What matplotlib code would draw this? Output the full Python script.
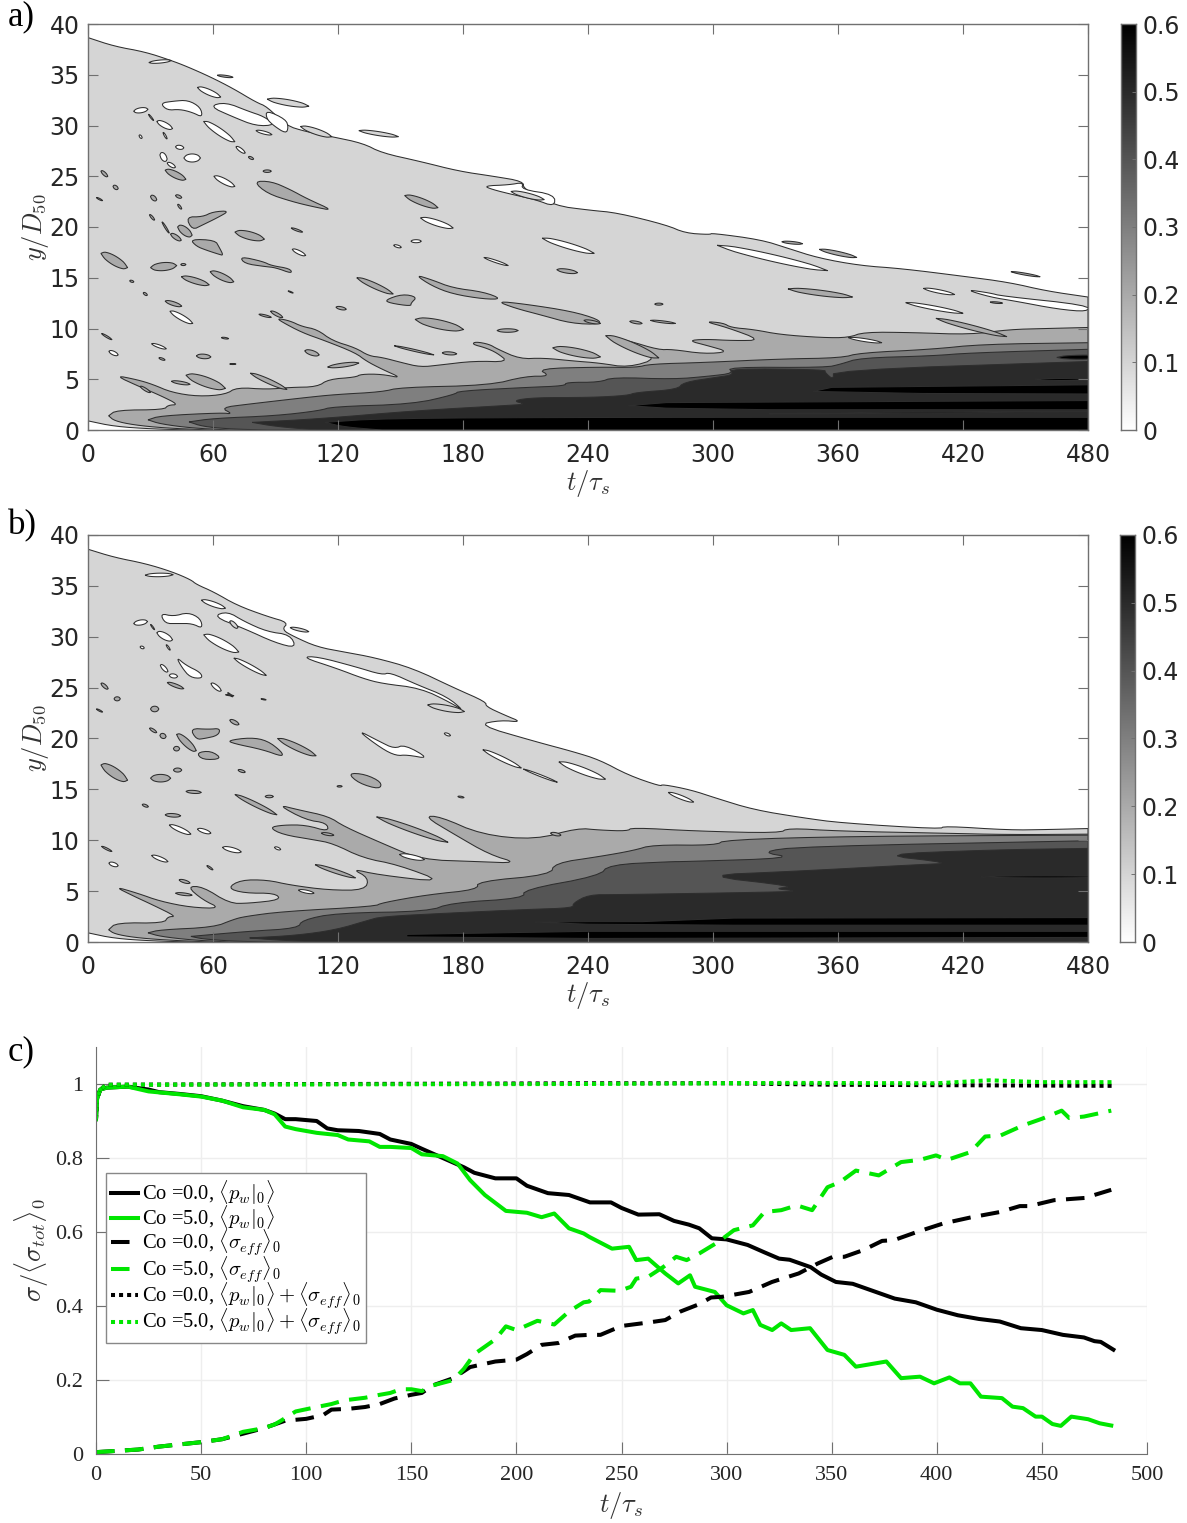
"""
Settling contour maps (a, b) and stress curves (c).
"""
import matplotlib
matplotlib.use('Agg')
import matplotlib.pyplot as plt
from matplotlib.lines import Line2D
import numpy as np

W, H = 1187, 1523

plt.rcParams['mathtext.fontset'] = 'cm'
plt.rcParams['font.family'] = ['DejaVu Sans']

levels = [0.1, 0.2, 0.3, 0.4, 0.5, 0.6]
t_ticks_map = [0, 60, 120, 180, 240, 300, 360, 420, 480]
y_ticks_map = [0, 5, 10, 15, 20, 25, 30, 35, 40]
cbar_ticks = [0, 0.1, 0.2, 0.3, 0.4, 0.5, 0.6]
cbar_labels = ['0', '0.1', '0.2', '0.3', '0.4', '0.5', '0.6']

# ---- panel a, upper edge of each band, lower edge near the origin
a_top_1 = [(0, 38.66), (12.7, 37.8), (27.4, 37.25), (40, 36.4), (47.6, 35.8), (58.6, 34.8), (69.6, 33.65), (80.6, 32.3),
           (86, 31.85), (95, 30), (104.5, 29.4), (117, 28.9), (132, 28.25), (141, 27.3), (159.6, 26.45), (178, 25.5),
           (194.5, 25), (209, 24.5), (209, 23.75), (224, 22.1), (241, 21.65), (254, 21.4), (277.6, 20.2), (286.7, 19.4),
           (298.5, 19.25), (299.5, 19.4), (323, 18.75), (336, 17.9), (350.5, 16.95), (370.6, 16.2), (390.7, 15.9),
           (420, 15.15), (442, 14.55), (460, 13.7), (480, 13.1)]
a_low_1 = [(0, 0.9), (12.7, 0.35), (31, 0.1), (50, 0)]
a_top_2 = [(9.9, 1.4), (13.6, 1.96), (36.5, 2.0), (38.4, 2.45), (43.5, 2.5), (34.7, 3.4), (25.5, 4.2), (12.7, 5.4),
           (23.7, 4.95), (31, 4.5), (40.2, 3.7), (53, 3.3), (66, 3.5), (71.4, 4.2), (86, 4.0), (97, 4.2), (110, 4.25),
           (115.5, 5), (128.4, 5.2), (131, 5.5), (141, 5.5), (150.8, 5.1), (141, 6), (133.5, 6.8), (128.4, 7.6),
           (113.7, 8.8), (102.7, 9.6), (92.6, 10.7), (91, 11), (97, 10.75), (102.7, 10.2), (110, 9.9), (117.3, 8.8),
           (128.4, 8.1), (134.8, 7.3), (141.2, 7.15), (150.4, 6.65), (159.6, 6.2), (168.8, 6.4), (185.3, 6.8),
           (201.8, 6.7), (196.3, 7.6), (190.8, 8.1), (184.4, 8.45), (186, 8.7), (192.6, 8.45), (196.3, 8), (207.3, 7),
           (218.4, 7.1), (233, 6.8), (245.5, 6.6), (259.3, 6.15), (273.9, 7.07), (259.3, 8.3), (248.4, 9.3), (259.3, 8.8),
           (273.9, 7.9), (280.3, 7.95), (295.8, 7.5), (307.7, 7.7), (297.6, 8.3), (288.1, 8.8), (295.8, 8.95),
           (310.4, 8.8), (323.2, 8.85), (306.8, 10.1), (295.8, 10.7), (304.9, 10.55), (308.6, 10.1), (319.5, 9.9),
           (332.3, 9.4), (352.4, 9.1), (365.1, 9.1), (372.4, 9.65), (396.2, 9.6), (423.5, 9.4), (442, 9.9), (460, 10),
           (480, 10.1)]
a_low_2 = [(9.9, 1.4), (12.7, 0.9), (21.9, 0.5), (36.5, 0.2), (58.6, 0)]
a_top_3 = [(28.8, 1.0), (34.7, 1.4), (64, 1.7), (69.5, 1.57), (63.7, 2.2), (77, 2.55), (104.5, 3.2), (119, 3.5), (141, 3.75),
           (150, 4.2), (192.6, 4.4), (210, 5.3), (222, 5.3), (215.6, 6.05), (245.5, 6.2), (263, 6.15), (270, 6.5),
           (295.8, 6.65), (332.3, 7), (361.5, 7.1), (370.6, 7.6), (405, 7.95), (429, 8.45), (480, 8.6)]
a_low_3 = [(28.8, 1.0), (34.7, 0.6), (49.4, 0.2), (67.8, 0)]
a_top_4 = [(48.5, 0.8), (60.4, 1.15), (89.8, 1.4), (111, 1.9), (117.4, 2.3), (156, 2.55), (176, 3.5), (178, 3.85), (211, 4.2),
           (229, 4.35), (229.4, 4.7), (245.5, 4.7), (252, 5.2), (281, 5), (298, 5.3), (310, 5.6), (306.8, 6.2), (354, 6.15),
           (361.5, 6.5), (370.6, 7.1), (405, 7.3), (423.5, 7.6), (480, 7.95)]
a_low_4 = [(48.5, 0.8), (55, 0.35), (67.8, 0.1), (86, 0)]
a_top_5 = [(78.8, 0.75), (111, 1.1), (157, 1.9), (204, 2.45), (210, 2.55), (203.7, 2.9), (214.7, 3.2), (241, 3.2), (259, 3.4),
           (263, 3.7), (283, 4), (285.8, 4.7), (302, 5.2), (310, 5.45), (307.7, 6.05), (353.8, 5.95), (353.8, 5.65),
           (357.8, 4.95), (357.8, 5.9), (480, 6.75)]
a_low_5 = [(78.8, 0.75), (90, 0.35), (110, 0)]
a_top_6 = [(113.7, 0.75), (141, 1.15), (245.5, 1.25), (480, 1.25)]
a_low_6 = [(113.7, 0.75), (123, 0.3), (141, 0)]
a_black = [[(259.3, 2.4), (277.6, 2.7), (480, 2.9), (480, 2.0), (327, 2.0), (277.6, 2.15)],
           [(348, 3.8), (357, 4.2), (480, 4.45), (480, 3.55), (400, 3.6)]]
a_black_lens = [(327, 1.6, 480, 1.85, 0.12), (454.6, 5.0, 480, 4.95, 0.2), (465, 7.15, 490, 7.2, 0.4)]

a_white = [[(34.7, 32.2), (41, 32.4), (48, 32.5), (54, 31.8), (55, 30.8), (50, 31.3), (44, 31.6), (38, 31.5)],
           [(58.2, 31.9), (66, 32.3), (77, 31.4), (84.3, 30.9), (90, 30.05), (80.6, 29.95), (69.6, 30.85)],
           [(85.6, 31.5), (95, 30.6), (96.2, 29.8), (95, 29.2), (89, 30), (85.6, 30.7)],
           [(190, 24.05), (202, 24.15), (209, 24.4), (208, 23.7), (224, 23.2), (224, 22), (214.7, 22.7), (203.7, 23.2),
            (194, 23.7)],
           [(421, 13.85), (433, 13.5), (438.5, 13.2), (480, 12.3), (480, 11.65), (465.6, 11.9), (445, 12.7), (433, 13.1)]]
a_white_lens = [(29.2, 36.2, 40, 36.4, 0.3), (52.5, 33.75, 63.7, 32.8, 0.6), (21.9, 31.4, 28.8, 31.6, 0.5),
                (33, 30.4, 40.6, 29.7, 0.6), (55.5, 30.4, 70.5, 28.4, 0.8), (80.6, 29.5, 88.3, 29.1, 0.3),
                (24.5, 29, 26, 28.8, 0.3), (36, 29.3, 38, 28.7, 0.3), (29, 31.1, 31.5, 30.5, 0.2), (42, 27.9, 46, 27.8, 0.4),
                (34.5, 27.1, 38, 26.7, 0.8), (38, 26.3, 42, 25.9, 0.4), (46, 26.8, 54, 26.8, 0.8), (71, 27.9, 75.5, 27.3, 0.4),
                (60.4, 25, 70.5, 24, 0.6), (159.6, 20.9, 175.3, 19.9, 0.6), (155, 18.6, 160, 18.6, 0.3),
                (146.7, 18.2, 150.4, 18, 0.25), (218, 18.9, 243, 17.4, 0.6), (98, 17.8, 104.5, 17.2, 0.4),
                (190, 17, 201.7, 16.2, 0.25), (39.3, 11.7, 50.3, 10.5, 0.6), (30.5, 8.5, 37.6, 8, 0.3),
                (10, 7.75, 14.5, 7.4, 0.4), (302, 18.2, 355, 15.7, 0.7), (401, 13.95, 416, 13.35, 0.35),
                (392.5, 12.55, 420, 11.5, 0.4), (365, 9.1, 381, 8.6, 0.3)]
a_light_lens = [(86, 32.6, 106, 31.9, 0.6), (102, 29.9, 117, 28.9, 0.6), (130, 29.5, 149, 28.9, 0.4), (203, 23.5, 219, 22.7, 0.5)]
a_gray = [[(79.4, 24.5), (88, 24.5), (97, 23.7), (105, 22.8), (118, 21.6), (108, 22), (98, 22.5), (86, 23.3)],
          [(47, 21), (55, 21), (60, 21.5), (68, 21.6), (62, 20.9), (55, 20.2), (50, 19.7)],
          [(49, 18.8), (61, 18.7), (63, 18), (65, 17.2), (63, 17.3), (57, 17.7), (52, 18.1)],
          [(73, 17.1), (84, 16.6), (88, 16.2), (97, 15.9), (98, 15.4), (90, 16), (85, 16.1), (75, 16.4)],
          [(142.5, 12.8), (151, 13.4), (158, 13.1), (155, 12.5), (155, 12.2), (145, 12.5)],
          [(157, 15.3), (165, 14.8), (175, 14), (190, 13.6), (198.7, 12.9), (190, 12.9), (175, 13.4), (165, 14.2)],
          [(196, 12.7), (210, 12.4), (232, 11.7), (245, 10.9), (246, 10.4), (232, 10.5), (218, 11.3), (205, 12)]]
a_gray_lens = [(62, 34.95, 69.6, 34.75, 0.2), (6.2, 25.5, 9.5, 25, 0.4), (12, 24, 14.5, 23.8, 0.4), (4, 22.9, 7, 22.6, 0.15),
               (30, 23, 33, 22.7, 0.5), (42, 23.1, 45, 22.9, 0.3), (43, 22.2, 45, 21.8, 0.3), (29.5, 21.2, 32, 20.7, 0.3),
               (37, 25.6, 47, 24.7, 0.7), (84, 25.5, 88, 25.5, 0.25), (77, 26.9, 79.5, 26.7, 0.25),
               (152, 23.1, 168, 21.9, 0.7), (43, 20, 50, 19.2, 0.9), (35.5, 20.5, 39, 19.4, 0.3), (39.6, 19.3, 44.8, 18.7, 0.5),
               (70.5, 19.5, 84.7, 18.8, 0.8), (97.5, 19.9, 103, 19.5, 0.2), (6.2, 17.4, 19, 16, 1.0), (30, 16, 42.6, 16.2, 0.8),
               (44.5, 16.3, 47, 16.3, 0.2), (20, 14.7, 22, 14.6, 0.2), (44.8, 15.1, 58.2, 14.3, 0.6), (58.6, 15.6, 70, 14.6, 0.7),
               (26.5, 13.5, 28.5, 13.3, 0.25), (96, 13.7, 98.5, 13.5, 0.1), (37, 12.7, 45, 12.2, 0.4),
               (129, 15, 146.5, 13.4, 0.6), (157, 10.9, 180.3, 9.9, 0.9), (119, 12.1, 124, 11.9, 0.3),
               (196.3, 9.8, 206.5, 9.8, 0.35), (82, 11.4, 88, 11.1, 0.2), (87.6, 11.7, 93.5, 11.1, 0.35),
               (6.5, 9.5, 11.5, 8.9, 0.2), (64, 9.1, 67.5, 9, 0.15), (34, 7.1, 37, 6.9, 0.2), (52, 7.3, 59, 7.2, 0.45),
               (104, 7.8, 111, 7.4, 0.5), (68, 6.5, 71, 6.5, 0.1), (115, 6.2, 130, 6.6, 0.4), (147, 8.3, 166, 7.4, 0.2),
               (170, 7.6, 177, 7.5, 0.3), (40, 4.8, 49, 4.5, 0.3), (47, 5.4, 66, 4.1, 1.0), (77.9, 5.6, 95.5, 4.0, 0.5),
               (25, 4.3, 30, 3.7, 0.3), (223, 8.1, 246, 7.2, 0.8), (248.4, 9.3, 274, 7.1, 0.9), (407, 11, 441, 9.2, 0.5),
               (333, 18.55, 343, 18.35, 0.25), (351, 17.8, 369, 17, 0.4), (336, 13.9, 367, 13.1, 0.55),
               (443, 15.6, 457, 15.1, 0.2), (225, 15.8, 235, 15.5, 0.4), (272, 12.4, 276, 12.4, 0.2), (260, 10.7, 266, 10.5, 0.25),
               (270, 10.8, 282, 10.5, 0.2), (238, 10.8, 246, 10.5, 0.3), (433, 12.6, 439, 12.5, 0.15)]

# ---- panel b
b_top_1 = [(0, 38.6), (12.7, 37.8), (27.4, 37.2), (40.2, 36.4), (49.4, 35.6), (52, 35.15), (60.4, 34.4), (71.4, 33.1), (86, 32),
           (96.2, 31.4), (93, 30.7), (99, 30), (110, 29), (123, 28.5), (137.6, 27.95), (156, 26.9), (176, 24.95), (191, 23.6),
           (191, 23.15), (200, 22.3), (208.3, 21.6), (198, 21.8), (187, 21.35), (214.7, 19.7), (233, 18.7), (245.5, 17.9),
           (259.3, 16.4), (274.8, 15.3), (275.7, 15.5), (289.4, 14.95), (301.3, 14.15), (319.5, 13), (343.3, 12.2),
           (361.5, 11.7), (409, 11.1), (411, 11.4), (442, 11), (460, 11.05), (480, 11.15)]
b_low_1 = [(0, 0.9), (12.7, 0.35), (31, 0.1), (50, 0)]
b_top_2 = [(9.9, 1.2), (13.6, 1.9), (36.5, 1.85), (38.4, 2.5), (42.4, 2.5), (31, 3.65), (22, 4.5), (12.7, 5.45), (23.7, 4.8),
           (34.7, 4), (49.4, 3.4), (63.7, 3.3), (55, 4.15), (47.6, 5.45), (55, 5.45), (67.8, 3.8), (77, 3.8), (92.6, 4.15),
           (89.8, 4.8), (75, 4.8), (66.9, 5.3), (73.3, 6.1), (86, 6.1), (97, 5.6), (115.5, 5.1), (133, 5.1), (134.8, 6.3),
           (126.5, 7.2), (139.4, 6.6), (171.5, 5.85), (148.6, 7.6), (132, 8.25), (117.4, 9.7), (108.2, 10.05), (93.5, 10.55),
           (87, 11.25), (93.5, 11.5), (104.5, 11.5), (115.5, 10.85), (114.6, 11.7), (104.5, 12), (91, 13.5), (100.8, 13),
           (115.5, 12.35), (122.9, 11.35), (141.2, 9.7), (159.6, 8.1), (187.1, 7.9), (206.4, 7.75), (192.6, 8.6),
           (176.1, 10.55), (161.4, 12.35), (168.8, 12.35), (188.9, 10.55), (214.7, 10.05), (234.9, 11.2), (245.5, 11),
           (259, 10.9), (261, 11.25), (292, 10.9), (332, 10.7), (336, 11.2), (360, 10.9), (409, 10.7), (442, 10.55),
           (480, 10.6)]
b_low_2 = [(9.9, 1.2), (12.7, 0.8), (21.9, 0.45), (36.5, 0.2), (58.6, 0)]
b_top_3 = [(28.8, 0.9), (34.7, 1.2), (60.4, 1.45), (69.6, 2.2), (75, 2.5), (93.5, 3), (137.6, 3.5), (141, 3.85), (163, 4.65),
           (187, 5.15), (187, 5.95), (222, 6.6), (223.9, 7.75), (245.5, 8.4), (262, 9), (271, 9.55), (301.3, 9.5),
           (305.8, 10.05), (368.8, 10.4), (480, 10.5)]
b_low_3 = [(28.8, 0.9), (34.7, 0.55), (49.4, 0.2), (67.8, 0)]
b_top_4 = [(49.4, 0.55), (77, 1.05), (100.8, 1.35), (102.7, 2.15), (119.2, 2.85), (163.3, 3), (174.3, 3.85), (209.2, 4.3),
           (209.2, 5.15), (245.5, 6.5), (250, 7.6), (280, 7.9), (285.8, 7.9), (339.6, 8.25), (322.3, 8.85), (343.2, 9.4),
           (480, 9.95)]
b_low_4 = [(49.4, 0.55), (55, 0.3), (67.8, 0.1), (86, 0)]
b_top_5 = [(77.6, 0.4), (100, 0.65), (119, 1.2), (133.9, 2.1), (141, 2.5), (174, 2.85), (211, 3.2), (233, 3.35), (232.7, 3.8),
           (240.4, 4.65), (253.8, 4.65), (328.6, 4.9), (341.4, 5), (328.6, 5.25), (340.5, 5.45), (293, 6.55), (339.6, 6.95),
           (398, 7.6), (415.3, 7.75), (378, 8.6), (432.7, 9.05), (480, 9.2)]
b_low_5 = [(77.6, 0.4), (90, 0.2), (110, 0)]
b_black = [[(153, 0.75), (241, 1.05), (480, 1.05), (480, 0.45), (241, 0.35), (153, 0.5)],
           [(214.6, 1.95), (240, 2.0), (266, 2.0), (310, 2.35), (480, 2.4), (480, 1.65), (310, 1.65), (240, 1.75)]]
b_black_lens = [(428.6, 6.4, 490, 6.4, 0.2)]

b_white = [[(34.7, 32.3), (41, 32), (48, 32.4), (54, 31.8), (55, 30.8), (50, 31.3), (43, 31.3), (37, 31.3)],
           [(60, 32), (66.9, 32.5), (75, 31.5), (86, 30.5), (97, 30.2), (100, 28.9), (90, 29.4), (75, 30.8)],
           [(102.7, 28), (110, 28.05), (128.4, 27.05), (141.2, 26.25), (144.9, 26.5), (157.8, 25.3), (172.5, 24.1),
            (180.7, 22.65), (174.3, 23.5), (159.6, 24.95), (141.2, 25.4), (132, 25.9), (119.2, 26.9)],
           [(42.4, 28), (47, 27.2), (54, 26.5), (55, 25.9), (49, 26), (45, 27)],
           [(128.7, 20.9), (140, 19.7), (147, 19), (152, 19.4), (164, 18), (153, 18.4), (148, 18.3), (141, 19)]]
b_white_lens = [(27.4, 36.05, 40.9, 36.1, 0.35), (54.4, 33.6, 66, 32.8, 0.5), (21.9, 31.3, 28.6, 31.5, 0.5),
                (33, 30.4, 40.6, 29.7, 0.7), (55.5, 30.2, 72.4, 28.5, 0.9), (34.7, 27.2, 38.4, 26.6, 0.5), (39, 26.2, 43, 26.1, 0.4),
                (59, 25.4, 64, 24.7, 0.5), (70, 27.9, 85.6, 26.2, 0.5), (189.5, 18.9, 208, 17.1, 0.5),
                (209, 17, 225.3, 15.7, 0.2), (226, 17.7, 248.4, 16, 0.7), (278.5, 14.7, 290.7, 13.75, 0.4),
                (39, 11.5, 49.4, 10.6, 0.5), (52.5, 11.1, 59, 10.7, 0.4), (64.5, 9.3, 73.6, 8.85, 0.45), (89.5, 9.3, 92.5, 9.1, 0.25),
                (30.5, 8.5, 38.4, 7.9, 0.4), (10, 7.75, 14.5, 7.5, 0.4), (101, 5.1, 108.5, 4.8, 0.3), (149.5, 8.6, 161.5, 8.1, 0.45),
                (25, 29, 27, 28.9, 0.25), (37.5, 29.2, 39.5, 28.7, 0.25), (30, 31.2, 32, 30.7, 0.2), (67, 24.5, 69.5, 24.1, 0.15),
                (171, 20.5, 174, 20.3, 0.25)]
b_light_lens = [(68, 31.5, 72, 30.9, 0.5), (163, 23.3, 180.7, 22.65, 0.6), (97, 30.9, 106, 30.5, 0.3)]
b_gray = [[(49, 21), (58, 20.9), (63.5, 21), (62.5, 20.3), (56, 20), (52, 19.9)],
          [(52, 18.6), (59, 18.8), (64.5, 18), (55, 17.9)],
          [(67, 19.8), (78, 20.1), (86, 19.8), (93, 18.7), (93.5, 18.2), (84, 18.9), (70, 19.5)],
          [(124.7, 16.6), (133, 16.5), (141, 15.7), (140, 15), (130, 15.6)]]
b_gray_lens = [(6.2, 25.4, 9.7, 24.9, 0.4), (12.5, 23.9, 15.5, 23.9, 0.4), (4, 22.9, 7, 22.6, 0.15), (30, 22.9, 34, 22.9, 0.55),
               (29.5, 21, 33, 20.6, 0.3), (34.5, 20.3, 37.5, 20.2, 0.5), (41, 19, 44, 19, 0.45), (42.5, 20.4, 52, 18.8, 0.9),
               (91, 20, 109.5, 18.3, 0.7), (68, 21.8, 72.5, 21.4, 0.4), (6.2, 17.4, 19, 15.9, 1.1), (30, 16.1, 39.7, 16.1, 0.75),
               (41, 16.9, 45, 16.9, 0.4), (47, 14.8, 54.4, 14.7, 0.3), (26, 13.5, 29, 13.3, 0.25), (37, 12.5, 44.5, 12.4, 0.35),
               (70.5, 14.5, 90.7, 12.5, 0.5), (85, 14.3, 89, 14.3, 0.25), (119.5, 15.3, 122, 15.3, 0.15),
               (177.5, 14.3, 180.5, 14.2, 0.15), (72, 16.9, 75.5, 16.7, 0.25), (138.5, 12.3, 172.8, 9.8, 0.6),
               (109, 7.6, 128.4, 6.3, 0.4), (43.7, 6.1, 49, 5.8, 0.3), (42, 4.8, 50, 4.6, 0.25), (222, 10.7, 227, 10.5, 0.3),
               (6.5, 9.4, 11.5, 8.9, 0.2), (38, 25.5, 46, 24.9, 0.35), (57, 7.5, 60, 7.1, 0.2), (66, 24.3, 70, 24.2, 0.1),
               (83, 23.9, 85.5, 23.8, 0.1), (112, 10.7, 118, 10.5, 0.25)]

# ---- panel c
t_black_p = [0, 0.5, 2, 5, 15, 25, 30, 40, 50, 60, 70, 80, 85, 90, 95, 105, 110, 115, 125, 135, 140, 150, 155, 165, 175, 180, 190,
             200, 205, 215, 225, 235, 245, 250, 258, 268, 275, 282, 287, 293, 300, 310, 318, 325, 330, 340, 345, 352, 360, 370,
             380, 390, 400, 410, 420, 430, 440, 450, 460, 470, 475, 478, 484]
black_p = [.905, .96, .985, .99, .993, .985, .978, .973, .967, .955, .94, .93, .92, .905, .905, .90, .88, .875, .873, .865, .85,
           .838, .825, .80, .775, .76, .745, .745, .725, .705, .70, .68, .68, .665, .647, .648, .63, .62, .61, .583, .58, .565,
           .545, .528, .525, .505, .485, .465, .46, .44, .42, .41, .39, .375, .365, .358, .34, .335, .322, .315, .305, .303, .282]
t_green_p = [0, 0.5, 2, 5, 15, 25, 40, 50, 60, 70, 80, 85, 90, 95, 105, 115, 120, 130, 135, 140, 150, 155, 165, 172, 178, 185, 195,
             205, 212, 218, 225, 232, 234.6, 245.5, 253.6, 257, 262.7, 270.8, 277, 282.6, 285, 294.4, 300, 308, 312.5, 316, 321.7,
             326, 330.7, 339.7, 348, 356, 361.5, 376, 383, 392, 398.7, 406, 411, 416, 421, 431, 436, 441, 447, 450, 455, 459, 464,
             472, 477.5, 483]
green_p = [.905, .96, .985, .99, .993, .98, .972, .966, .955, .937, .93, .918, .885, .878, .868, .862, .85, .845, .83, .83, .827,
           .81, .805, .785, .74, .70, .657, .652, .64, .65, .61, .596, .587, .555, .56, .524, .528, .488, .461, .483, .452, .438,
           .402, .38, .389, .349, .335, .353, .335, .34, .281, .268, .236, .25, .205, .209, .191, .207, .191, .191, .155, .151,
           .128, .124, .101, .101, .081, .076, .101, .094, .083, .077]
t_black_s = [0, 20, 30, 50, 60, 70, 80, 85, 90, 100, 108, 112, 120, 128, 135, 142, 150, 155, 160, 170, 178, 190, 200, 205, 212, 220,
             228, 234.6, 240, 250, 263.6, 270.8, 278, 287, 292.6, 298, 310.7, 321.6, 334.3, 343.4, 350.6, 356, 365, 374, 379.6,
             390.5, 403, 415.8, 430, 439.5, 444, 455.8, 470.3, 483]
black_s = [.005, .012, .02, .032, .04, .055, .07, .08, .09, .095, .105, .12, .122, .127, .135, .15, .16, .165, .185, .205, .235, .25,
           .255, .27, .295, .3, .32, .322, .322, .346, .356, .362, .385, .405, .423, .425, .438, .465, .488, .515, .533, .533, .551,
           .576, .578, .6, .623, .639, .654, .67, .67, .686, .692, .714]
t_green_s = [0, 20, 30, 50, 60, 70, 80, 85, 88, 95, 105, 112, 118, 128, 135, 140, 145, 150, 155, 160, 170, 175, 180, 190, 195, 200, 210,
             218, 225, 232, 234.6, 240, 249, 254.5, 257, 262.7, 270, 276, 281, 287, 296, 303.5, 312.5, 318, 326, 333.4, 340.7, 348, 354,
             361.5, 372.4, 383, 392, 399.6, 405, 416, 423, 430.4, 441, 450, 459.4, 463, 470, 483]
green_s = [.005, .012, .02, .032, .04, .06, .07, .08, .09, .115, .127, .135, .145, .152, .16, .165, .175, .175, .17, .185, .2, .23, .27,
           .31, .345, .335, .36, .35, .385, .41, .412, .443, .441, .452, .474, .479, .506, .533, .524, .542, .573, .605, .618, .654, .659,
           .672, .659, .721, .735, .766, .753, .789, .795, .807, .795, .816, .858, .861, .888, .906, .928, .908, .912, .928]
t_black_sum = [0, 0.5, 2, 5, 230, 300, 350, 484]
black_sum = [.905, .96, .985, .998, 1.002, 1.002, .998, .995]
t_green_sum = [0, 0.5, 2, 5, 230, 330, 400, 425, 450, 484]
green_sum = [.905, .96, .985, .998, 1.0, 1.003, 1.002, 1.01, 1.005, 1.005]
t_ticks_c = [0, 50, 100, 150, 200, 250, 300, 350, 400, 450, 500]
y_ticks_c = [0, 0.2, 0.4, 0.6, 0.8, 1]
y_labels_c = ['0', '0.2', '0.4', '0.6', '0.8', '1']
legend_names = [r'Co =0.0, $\langle p_w|_0\rangle$', r'Co =5.0, $\langle p_w|_0\rangle$',
                r'Co =0.0, $\langle\sigma_{eff}\rangle_0$', r'Co =5.0, $\langle\sigma_{eff}\rangle_0$',
                r'Co =0.0, $\langle p_w|_0\rangle+\langle\sigma_{eff}\rangle_0$',
                r'Co =5.0, $\langle p_w|_0\rangle+\langle\sigma_{eff}\rangle_0$']

cmap = plt.get_cmap('gray_r')
EDGE = '#2e2e2e'
AX_COL = '#707070'


def axes_px(left, top, right, bottom):
    return fig.add_axes([left / W, 1 - bottom / H, (right - left) / W, (bottom - top) / H])


def lens(t1, y1, t2, y2, th):
    # thin blob between two end points, th is full height
    s = np.linspace(0, 1, 9)
    tt = t1 + (t2 - t1) * s
    yy = y1 + (y2 - y1) * s
    bulge = 0.5 * th * np.sin(np.pi * s) ** 0.5
    return list(zip(np.r_[tt, tt[::-1]], np.r_[yy + bulge, (yy - bulge)[::-1]]))


def round_closed(pts, n=2):
    # corner cutting, only rounds the outline
    p = np.array(pts, dtype=float)
    for _ in range(n):
        q = np.roll(p, -1, axis=0)
        p = np.column_stack([0.75 * p + 0.25 * q, 0.25 * p + 0.75 * q]).reshape(-1, 2)
    return p


def round_open(pts, n=2):
    p = np.array(pts, dtype=float)
    for _ in range(n):
        a, b = p[:-1], p[1:]
        mid = np.column_stack([0.75 * a + 0.25 * b, 0.25 * a + 0.75 * b]).reshape(-1, 2)
        p = np.vstack([p[0], mid, p[-1]])
    return p


def shade(ax, pts, level):
    pts = np.array(pts)
    col = 'white' if level == 0 else cmap(level / 0.6)
    ax.fill(pts[:, 0], pts[:, 1], facecolor=col, edgecolor=EDGE, linewidth=0.75)


def band(ax, top, low, level):
    shade(ax, np.vstack([round_open(top), [(480, 0)], round_open(low)[::-1]]), level)


def contour_panel(ax, cax, bands, white, white_lens, light_lens, gray, gray_lens, black, black_lens):
    band(ax, *bands[0], levels[0])
    band(ax, *bands[1], levels[1])
    for p in white:
        shade(ax, round_closed(p), 0)
    for p in white_lens:
        shade(ax, round_closed(lens(*p), 1), 0)
    for p in light_lens:
        shade(ax, round_closed(lens(*p), 1), levels[0])
    for p in gray:
        shade(ax, round_closed(p), levels[1])
    for p in gray_lens:
        shade(ax, round_closed(lens(*p), 1), levels[1])
    for i, b in enumerate(bands[2:]):
        band(ax, *b, levels[i + 2])
    for p in black:
        shade(ax, p, levels[5])
    for p in black_lens:
        shade(ax, lens(*p), levels[5])

    ax.set_xlim(0, 480)
    ax.set_ylim(0, 40)
    ax.set_xticks(t_ticks_map)
    ax.set_yticks(y_ticks_map)
    ax.tick_params(direction='in', length=7.5, width=0.8, color=AX_COL, top=True, right=True, labelsize=17,
                   labelcolor='#262626', pad=9)
    ax.tick_params(axis='y', pad=6)
    for s in ax.spines.values():
        s.set_color(AX_COL)
        s.set_linewidth(1.0)
    ax.set_xlabel(r'$t/\tau_s$', fontsize=19, color='#333333', labelpad=1)
    ax.set_ylabel(r'$y/D_{50}$', fontsize=19, color='#333333', labelpad=-1)

    cax.imshow(np.linspace(0.6, 0, 256).reshape(-1, 1), cmap=cmap, vmin=0, vmax=0.6, aspect='auto',
               extent=[0, 1, 0, 0.6])
    cax.set_xticks([])
    cax.yaxis.tick_right()
    cax.set_yticks(cbar_ticks)
    cax.set_yticklabels(cbar_labels)
    cax.tick_params(direction='in', length=3, width=0.7, color=AX_COL, labelsize=17, labelcolor='#262626', pad=5)
    for s in cax.spines.values():
        s.set_color(AX_COL)
        s.set_linewidth(1.0)


fig = plt.figure(figsize=(W / 100, H / 100), dpi=100)

ax_a = axes_px(88, 24, 1088, 430)
cax_a = axes_px(1121, 24, 1136, 430)
contour_panel(ax_a, cax_a,
              [(a_top_1, a_low_1), (a_top_2, a_low_2), (a_top_3, a_low_3), (a_top_4, a_low_4), (a_top_5, a_low_5),
               (a_top_6, a_low_6)],
              a_white, a_white_lens, a_light_lens, a_gray, a_gray_lens, a_black, a_black_lens)

ax_b = axes_px(88, 535, 1088, 942)
cax_b = axes_px(1120, 535, 1135, 942)
contour_panel(ax_b, cax_b,
              [(b_top_1, b_low_1), (b_top_2, b_low_2), (b_top_3, b_low_3), (b_top_4, b_low_4), (b_top_5, b_low_5)],
              b_white, b_white_lens, b_light_lens, b_gray, b_gray_lens, b_black, b_black_lens)

ax_c = axes_px(96, 1047, 1147, 1454)
LW = 2.9
DASH = (0, (4.6, 2.6))
DOT = (0, (1, 1))
ax_c.plot(t_black_p, black_p, color='black', lw=LW)
ax_c.plot(t_green_p, green_p, color='#00e600', lw=LW)
ax_c.plot(t_black_s, black_s, color='black', lw=LW, ls=DASH)
ax_c.plot(t_green_s, green_s, color='#00e600', lw=LW, ls=DASH)
ax_c.plot(t_black_sum, black_sum, color='black', lw=LW, ls=DOT)
ax_c.plot(t_green_sum, green_sum, color='#00e600', lw=LW, ls=DOT)
ax_c.set_xlim(0, 500)
ax_c.set_ylim(0, 1.1)
ax_c.set_xticks(t_ticks_c)
ax_c.set_yticks(y_ticks_c)
ax_c.set_yticklabels(y_labels_c)
ax_c.grid(True, color='#eeeeee', linewidth=1.0)
ax_c.set_axisbelow(True)
ax_c.tick_params(direction='in', length=9, width=0.8, color=AX_COL, labelsize=16, labelcolor='#262626', pad=9)
for lab in ax_c.get_xticklabels() + ax_c.get_yticklabels():
    lab.set_fontfamily('Liberation Serif')
for side in ['top', 'right']:
    ax_c.spines[side].set_visible(False)
for side in ['left', 'bottom']:
    ax_c.spines[side].set_color(AX_COL)
ax_c.set_xlabel(r'$t/\tau_s$', fontsize=19, color='#333333', labelpad=3)
ax_c.set_ylabel(r'$\sigma/\langle\sigma_{tot}\rangle_0$', fontsize=19, color='#333333', labelpad=3)

cols = ['black', '#00e600'] * 3
styles = ['-', '-', DASH, DASH, DOT, DOT]
handles = [Line2D([], [], color=c, ls=s, lw=LW) for c, s in zip(cols, styles)]
leg = ax_c.legend(handles, legend_names, loc='upper left', bbox_to_anchor=(10 / 1051, 1 - 126 / 407), borderaxespad=0,
                  frameon=True, fancybox=False, edgecolor='#888888', framealpha=1, handlelength=1.3,
                  handletextpad=0.2, labelspacing=-0.2, borderpad=0.25, prop={'family': 'Liberation Serif', 'size': 14.8})
leg.get_frame().set_linewidth(1.0)

for lab, y in zip(['a)', 'b)', 'c)'], [17, 526, 1052]):
    fig.text(8 / W, 1 - y / H, lab, family='Liberation Serif', fontsize=25, va='center', ha='left', color='black')

fig.savefig('out.png', dpi=100)
